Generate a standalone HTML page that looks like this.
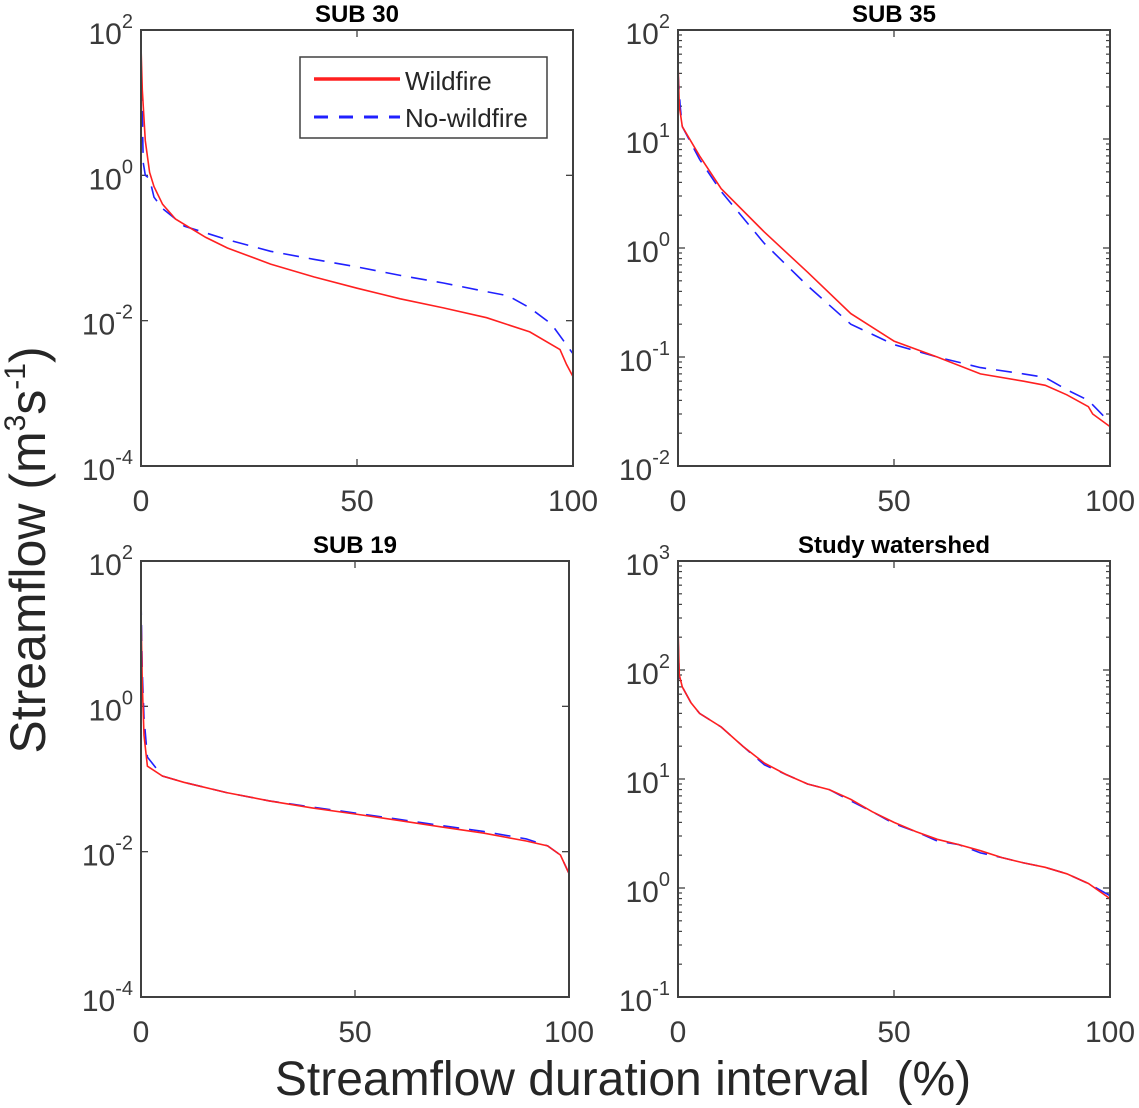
<!DOCTYPE html>
<html><head><meta charset="utf-8"><style>
html,body{margin:0;padding:0;background:#fff;}
svg{display:block;font-family:"Liberation Sans",Arial,sans-serif;}
</style></head><body>
<svg id="fig" width="1139" height="1108" viewBox="0 0 1139 1108" xmlns="http://www.w3.org/2000/svg">
<text x="0" y="0" transform="translate(45,550) rotate(-90)" text-anchor="middle" font-size="50" fill="#262626">Streamflow (m<tspan font-size="30" dy="-20">3</tspan><tspan dy="20">s</tspan><tspan font-size="30" dy="-20">-1</tspan><tspan dy="20">)</tspan></text>
<text x="623" y="1095" text-anchor="middle" font-size="48" fill="#262626" xml:space="preserve">Streamflow duration interval  (%)</text>
</svg>
<script>
const x30 = [0,0.3,1,2,3,5,8,15,20,30,40,50,60,70,80,90,97,98.5,100];
const w30 = [60,15,3,1.1,0.7,0.4,0.25,0.14,0.1,0.06,0.04,0.028,0.02,0.015,0.011,0.007,0.004,0.0025,0.0017];
const xb30 = [0,0.2,0.5,1,2,3,5,10,20,30,40,50,60,70,80,85,90,95,100];
const n30 = [40,15,1.5,1,0.9,0.5,0.35,0.2,0.13,0.09,0.07,0.055,0.042,0.033,0.025,0.022,0.015,0.009,0.0035];

const x35 = [0,0.3,1,5,10,20,30,40,50,60,70,80,85,90,95,96,100];
const w35 = [50,20,13,7,3.5,1.4,0.6,0.25,0.14,0.1,0.07,0.06,0.055,0.045,0.035,0.03,0.023];
const xb35 = [0,0.5,1,5,10,20,30,40,50,60,70,80,85,90,95,100];
const n35 = [40,20,13,6.5,3.3,1.1,0.45,0.2,0.13,0.1,0.08,0.07,0.065,0.05,0.04,0.025];

const x19 = [0,0.3,0.7,1.5,5,10,20,30,40,50,60,70,80,90,95,98,100];
const w19 = [20,2,0.4,0.15,0.11,0.09,0.065,0.05,0.04,0.033,0.027,0.022,0.018,0.014,0.012,0.009,0.005];
const n19 = [30,3,0.7,0.2,0.11,0.09,0.065,0.05,0.041,0.034,0.028,0.023,0.019,0.015,0.012,0.009,0.005];

const xsw = [0,0.3,1,3,5,10,15,20,25,30,35,40,45,50,55,60,65,70,75,80,85,90,95,100];
const wsw = [250,90,70,50,40,30,20,14,11,9,8,6.5,5,4,3.3,2.8,2.5,2.2,1.9,1.7,1.55,1.35,1.1,0.8];
const nsw = [200,85,70,50,40,30,20,13.5,11,9,8,6.3,5,3.9,3.3,2.7,2.5,2.1,1.9,1.7,1.55,1.35,1.1,0.85];

const xTicks = [0,50,100];

const NS = "http://www.w3.org/2000/svg";
const svg = document.getElementById('fig');
function mk(tag, attrs, parent){const e=document.createElementNS(NS,tag);for(const k in attrs)e.setAttribute(k,attrs[k]);(parent||svg).appendChild(e);return e;}

function panel(cfg){
  const {x0,x1,y0,y1,emin,emax,step,title,minor,series,slug}=cfg;
  const g = mk('g',{});
  
  
  const sx = v => x0 + (v/100)*(x1-x0);
  const sy = v => y1 - (Math.log10(v)-emin)/(emax-emin)*(y1-y0);
  if(minor){
    for(let e=emin;e<emax;e++){for(let m=2;m<10;m++){const yy=sy(m*Math.pow(10,e));
      mk('line',{x1:x0,x2:x0+4,y1:yy,y2:yy,stroke:'#404040','stroke-width':1.2},g);
      mk('line',{x1:x1,x2:x1-4,y1:yy,y2:yy,stroke:'#404040','stroke-width':1.2},g);}}
  }
  for(let e=emin;e<=emax;e+=step){
    const yy=sy(Math.pow(10,e));
    mk('line',{x1:x0,x2:x0+7,y1:yy,y2:yy,stroke:'#404040','stroke-width':1.3},g);
    mk('line',{x1:x1,x2:x1-7,y1:yy,y2:yy,stroke:'#404040','stroke-width':1.3},g);
    const t=mk('text',{x:x0-8,y:yy+14,'text-anchor':'end','font-size':30,fill:'#3a3a3a'},g);
    
    
    t.innerHTML='10<tspan font-size="20" dy="-16">'+e+'</tspan>';
  }
  xTicks.forEach(v=>{
    const xx=sx(v);
    mk('line',{x1:xx,x2:xx,y1:y1,y2:y1-7,stroke:'#404040','stroke-width':1.3},g);
    mk('line',{x1:xx,x2:xx,y1:y0,y2:y0+7,stroke:'#404040','stroke-width':1.3},g);
    const t=mk('text',{x:xx,y:y1+45,'text-anchor':'middle','font-size':30,fill:'#3a3a3a'},g);
    
    
    t.textContent=v;
  });
  series.forEach(s=>{
    const d=s.xs.map((v,i)=>(i?'L':'M')+sx(v).toFixed(1)+','+sy(s.ys[i]).toFixed(1)).join('');
    const p=mk('path',{d:d,fill:'none',stroke:s.color,'stroke-width':1.6,'stroke-dasharray':s.dash||'none'},g);
    
    
  });
  const r=mk('rect',{x:x0,y:y0,width:x1-x0,height:y1-y0,fill:'none',stroke:'#404040','stroke-width':2},g);
  
  
  const tt=mk('text',{x:(x0+x1)/2,y:y0-8,'text-anchor':'middle','font-size':24,'font-weight':'bold',fill:'#000'},g);
  
  
  tt.textContent=title;
}
const B='#2020ff', R='#ff2020', DASH='16,10';
panel({slug:'sub30',x0:141,x1:573,y0:30,y1:466,emin:-4,emax:2,step:2,title:'SUB 30',minor:false,
  series:[{name:'no-wildfire-line',xs:xb30,ys:n30,color:B,dash:DASH},{name:'wildfire-line',xs:x30,ys:w30,color:R}]});
panel({slug:'sub35',x0:678,x1:1110,y0:30,y1:466,emin:-2,emax:2,step:1,title:'SUB 35',minor:true,
  series:[{name:'no-wildfire-line',xs:xb35,ys:n35,color:B,dash:DASH},{name:'wildfire-line',xs:x35,ys:w35,color:R}]});
panel({slug:'sub19',x0:141,x1:569,y0:561,y1:997,emin:-4,emax:2,step:2,title:'SUB 19',minor:false,
  series:[{name:'no-wildfire-line',xs:x19,ys:n19,color:B,dash:DASH},{name:'wildfire-line',xs:x19,ys:w19,color:R}]});
panel({slug:'study-watershed',x0:678,x1:1110,y0:561,y1:997,emin:-1,emax:3,step:1,title:'Study watershed',minor:true,
  series:[{name:'no-wildfire-line',xs:xsw,ys:nsw,color:B,dash:DASH},{name:'wildfire-line',xs:xsw,ys:wsw,color:R}]});

const lg=mk('g',{});


mk('rect',{x:300,y:57,width:247,height:81,fill:'#fff',stroke:'#404040','stroke-width':1.5},lg);
mk('line',{x1:314,x2:400,y1:79,y2:79,stroke:R,'stroke-width':3.5},lg);
mk('line',{x1:314,x2:400,y1:117,y2:117,stroke:B,'stroke-width':3,'stroke-dasharray':'14,11'},lg);
const l1=mk('text',{x:405,y:90,'font-size':26,fill:'#262626'},lg);


l1.textContent='Wildfire';
const l2=mk('text',{x:405,y:127,'font-size':26,fill:'#262626'},lg);


l2.textContent='No-wildfire';
</script>
</body></html>
